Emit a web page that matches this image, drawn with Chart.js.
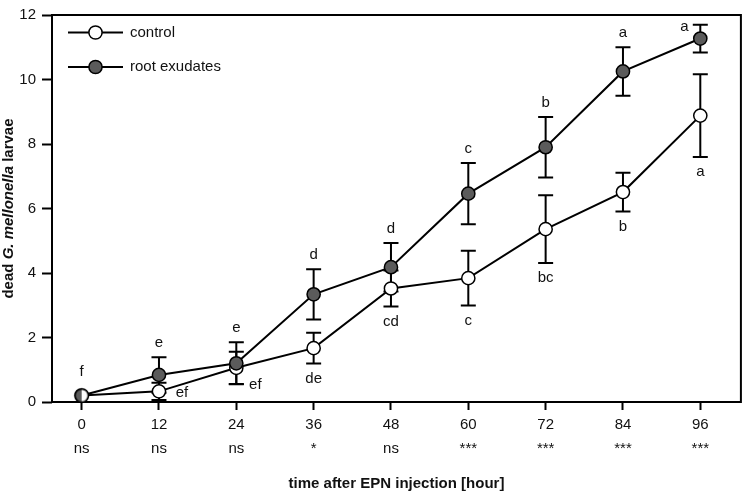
<!DOCTYPE html>
<html>
<head>
<meta charset="utf-8">
<script src="https://cdn.jsdelivr.net/npm/chart.js@4.4.1/dist/chart.umd.min.js"></script>
<style>
  html, body { margin: 0; padding: 0; background: #fff; }
  #wrap { width: 749px; height: 493px; }
</style>
</head>
<body>
<div id="wrap"><canvas id="larvaeChart" width="749" height="493"></canvas></div>
<script>
// dados
const hours = [0, 12, 24, 36, 48, 60, 72, 84, 96];
const controlMean = [0.2, 0.33, 1.06, 1.67, 3.52, 3.84, 5.36, 6.51, 8.88];
const controlSE = [0, 0.27, 0.5, 0.48, 0.56, 0.85, 1.05, 0.6, 1.28];
const rootMean = [0.2, 0.84, 1.2, 3.34, 4.18, 6.46, 7.9, 10.25, 11.27];
const rootSE = [0, 0.55, 0.65, 0.78, 0.75, 0.95, 0.94, 0.75, 0.43];
const controlLetters = ['', 'ef', 'ef', 'de', 'cd', 'c', 'bc', 'b', 'a'];
const rootLetters = ['f', 'e', 'e', 'd', 'd', 'c', 'b', 'a', 'a'];
const significance = ['ns', 'ns', 'ns', '*', 'ns', '***', '***', '***', '***'];
const yTicks = [0, 2, 4, 6, 8, 10, 12];

const FONT = "'Liberation Sans', Arial, sans-serif";
const GRAY = '#5b5b5b';

// marcador meio cinza / meio branco (pontos sobrepostos em t=0)
function halfMarker() {
    const c = document.createElement('canvas');
    c.width = 18; c.height = 18;
    const g = c.getContext('2d');
    g.beginPath(); g.arc(9, 9, 6.6, Math.PI / 2, Math.PI * 1.5); g.closePath();
    g.fillStyle = GRAY; g.fill();
    g.beginPath(); g.arc(9, 9, 6.6, -Math.PI / 2, Math.PI / 2); g.closePath();
    g.fillStyle = '#fff'; g.fill();
    g.beginPath(); g.arc(9, 9, 6.6, 0, Math.PI * 2);
    g.lineWidth = 1.5; g.strokeStyle = '#000'; g.stroke();
    return c;
}
const halfImg = halfMarker();

const toXY = (arr) => arr.map((v, i) => ({ x: hours[i], y: v }));

// barras de erro + moldura
const errorBars = {
    id: 'errorBars',
    beforeDatasetsDraw(chart) {
        const { ctx, chartArea: a, scales: { x, y } } = chart;
        ctx.save();
        ctx.strokeStyle = '#000';
        ctx.lineWidth = 2;
        ctx.strokeRect(a.left, a.top, a.right - a.left, a.bottom - a.top);
        chart.data.datasets.forEach(ds => {
            ds.se.forEach((se, i) => {
                if (!se) return;
                const px = x.getPixelForValue(hours[i]);
                const hi = y.getPixelForValue(ds.mean[i] + se);
                const lo = y.getPixelForValue(ds.mean[i] - se);
                ctx.beginPath();
                ctx.moveTo(px, hi); ctx.lineTo(px, lo);
                ctx.moveTo(px - 7.5, hi); ctx.lineTo(px + 7.5, hi);
                ctx.moveTo(px - 7.5, lo); ctx.lineTo(px + 7.5, lo);
                ctx.stroke();
            });
        });
        ctx.restore();
    }
};

// letras, legenda e títulos
const specialPos = {
    'control-1': { dx: 23, dy: 2 },
    'control-2': { dx: 19, dy: 17 },
    'root-8': { dx: -16, dy: -12 }
};

const annotations = {
    id: 'annotations',
    afterDatasetsDraw(chart) {
        const { ctx, chartArea: a, scales: { x, y } } = chart;
        ctx.save();
        ctx.fillStyle = '#111';
        ctx.font = `15px ${FONT}`;
        ctx.textAlign = 'center';
        ctx.textBaseline = 'middle';

        chart.data.datasets.forEach(ds => {
            ds.letters.forEach((txt, i) => {
                if (!txt) return;
                const px = x.getPixelForValue(hours[i]);
                const py = y.getPixelForValue(ds.mean[i]);
                const sp = specialPos[ds.key + '-' + i];
                let lx = px, ly;
                if (sp) {
                    lx = px + sp.dx; ly = py + sp.dy;
                } else if (ds.key === 'root') {
                    ly = Math.min(y.getPixelForValue(ds.mean[i] + ds.se[i]) - 14, py - 24);
                } else {
                    ly = Math.max(y.getPixelForValue(ds.mean[i] - ds.se[i]) + 15, py + 24);
                }
                ctx.fillText(txt, lx, ly);
            });
        });

        // legenda
        chart.data.datasets.forEach((ds, k) => {
            const ly = 32.5 + k * 34.5;
            ctx.beginPath();
            ctx.moveTo(68, ly); ctx.lineTo(123, ly);
            ctx.lineWidth = 2; ctx.strokeStyle = '#000'; ctx.stroke();
            ctx.beginPath();
            ctx.arc(95.5, ly, 6.6, 0, Math.PI * 2);
            ctx.fillStyle = ds.pointBackgroundColor; ctx.fill();
            ctx.lineWidth = 1.5; ctx.stroke();
            ctx.fillStyle = '#111';
            ctx.textAlign = 'left';
            ctx.fillText(ds.label, 130, ly);
        });

        // título eixo x
        ctx.font = `bold 15px ${FONT}`;
        ctx.textAlign = 'center';
        ctx.fillText('time after EPN injection [hour]', (a.left + a.right) / 2, 484);

        // título eixo y (com itálico)
        const parts = [
            ['dead ', `bold 15px ${FONT}`],
            ['G. mellonella', `italic bold 15px ${FONT}`],
            [' larvae', `bold 15px ${FONT}`]
        ];
        let total = 0;
        parts.forEach(p => { ctx.font = p[1]; total += ctx.measureText(p[0]).width; });
        ctx.translate(9, (a.top + a.bottom) / 2);
        ctx.rotate(-Math.PI / 2);
        ctx.textAlign = 'left';
        let cx = -total / 2;
        parts.forEach(p => {
            ctx.font = p[1];
            ctx.fillText(p[0], cx, 0);
            cx += ctx.measureText(p[0]).width;
        });
        ctx.restore();
    }
};

const ctx = document.getElementById('larvaeChart').getContext('2d');

new Chart(ctx, {
    type: 'line',
    data: {
        datasets: [
            {
                key: 'control',
                label: 'control',
                data: toXY(controlMean),
                mean: controlMean,
                se: controlSE,
                letters: controlLetters,
                borderColor: '#000',
                borderWidth: 2,
                pointBackgroundColor: '#fff',
                pointBorderColor: '#000',
                pointBorderWidth: 1.5,
                pointRadius: 6.6,
                order: 1,
                clip: false
            },
            {
                key: 'root',
                label: 'root exudates',
                data: toXY(rootMean),
                mean: rootMean,
                se: rootSE,
                letters: rootLetters,
                borderColor: '#000',
                borderWidth: 2,
                pointBackgroundColor: GRAY,
                pointBorderColor: '#000',
                pointBorderWidth: 1.5,
                pointRadius: 6.6,
                pointStyle: (c) => c.dataIndex === 0 ? halfImg : 'circle',
                order: 0,
                clip: false
            }
        ]
    },
    options: {
        responsive: false,
        animation: false,
        events: [],
        layout: { padding: { top: 5, right: 2, left: 0, bottom: 0 } },
        plugins: {
            legend: { display: false },
            tooltip: { enabled: false }
        },
        scales: {
            x: {
                type: 'linear',
                min: -4.6,
                max: 102.3,
                afterBuildTicks: (s) => { s.ticks = hours.map(v => ({ value: v })); },
                afterFit: (s) => { s.height = 91; },
                border: { display: false },
                grid: {
                    drawOnChartArea: false,
                    drawTicks: true,
                    tickLength: 8,
                    tickWidth: 2,
                    tickColor: '#000'
                },
                ticks: {
                    color: '#111',
                    padding: 3,
                    maxRotation: 0,
                    font: { size: 15, family: FONT, lineHeight: 1.6 },
                    callback: (v) => {
                        const i = hours.indexOf(v);
                        return i < 0 ? '' : [String(v), significance[i]];
                    }
                }
            },
            y: {
                min: 0,
                max: 12,
                afterBuildTicks: (s) => { s.ticks = yTicks.map(v => ({ value: v })); },
                afterFit: (s) => { s.width = 52; },
                border: { display: false },
                grid: {
                    drawOnChartArea: false,
                    drawTicks: true,
                    tickLength: 10,
                    tickWidth: 2,
                    tickColor: '#000'
                },
                ticks: {
                    color: '#111',
                    padding: 6,
                    font: { size: 15, family: FONT }
                }
            }
        }
    },
    plugins: [errorBars, annotations]
});
</script>
</body>
</html>
